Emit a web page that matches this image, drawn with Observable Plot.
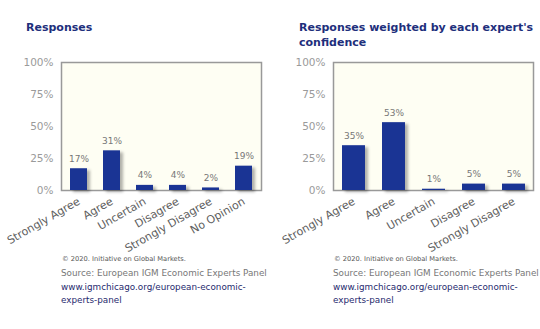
<!DOCTYPE html>
<html>
<head>
<meta charset="utf-8">
<script src="https://cdn.jsdelivr.net/npm/d3@7"></script>
<script src="https://cdn.jsdelivr.net/npm/@observablehq/plot@0.6"></script>
<style>
  html, body { margin: 0; padding: 0; background: #fff; }
  body { width: 540px; height: 329px; position: relative; overflow: hidden; font-family: "DejaVu Sans", Verdana, sans-serif; }
  .title { position: absolute; font-weight: bold; font-size: 11px; color: #1e2f7c; line-height: 15px; }
  .chart { position: absolute; top: 50px; }
  .copy { position: absolute; font-size: 6.7px; color: #555; }
  .src { position: absolute; font-size: 8.8px; color: #777; line-height: 13.5px; }
  .src a { color: #1f2a6e; text-decoration: none; }
  .chart g[aria-label="bar"] { filter: drop-shadow(3px 2px 1.5px rgba(0,0,0,0.3)); }
  .chart g[aria-label="frame"] { filter: drop-shadow(2px 2px 1px rgba(0,0,0,0.2)); }
</style>
</head>
<body>
<div class="title" style="left:26px; top:20px;">Responses</div>
<div class="title" style="left:299px; top:20px;">Responses weighted by each expert's<br>confidence</div>
<div id="left" class="chart" style="left:0px;"></div>
<div id="right" class="chart" style="left:270px;"></div>
<div class="copy" style="left:62px; top:255px;">© 2020. Initiative on Global Markets.</div>
<div class="src" style="left:61px; top:267px;">Source: European IGM Economic Experts Panel<br><a>www.igmchicago.org/european-economic-<br>experts-panel</a></div>
<div class="copy" style="left:334px; top:255px;">© 2020. Initiative on Global Markets.</div>
<div class="src" style="left:333px; top:267px;">Source: European IGM Economic Experts Panel<br><a>www.igmchicago.org/european-economic-<br>experts-panel</a></div>
<script>
const categoriesLeft = ["Strongly Agree", "Agree", "Uncertain", "Disagree", "Strongly Disagree", "No Opinion"];
const valuesLeft = [17, 31, 4, 4, 2, 19];
const categoriesRight = ["Strongly Agree", "Agree", "Uncertain", "Disagree", "Strongly Disagree"];
const valuesRight = [35, 53, 1, 5, 5];
const yTicks = [0, 25, 50, 75, 100];

function drawChart(el, cats, vals, mLeft, mRight, padInner) {
  const data = cats.map((c, i) => ({cat: c, v: vals[i]}));
  const chart = Plot.plot({
    width: 270,
    height: 200,
    marginTop: 12,
    marginBottom: 60,
    marginLeft: mLeft,
    marginRight: mRight,
    style: {fontFamily: "'DejaVu Sans', Verdana, sans-serif", background: "transparent", overflow: "visible"},
    x: {domain: cats, paddingInner: padInner, paddingOuter: padInner / 2},
    y: {domain: [0, 100]},
    marks: [
      Plot.frame({fill: "#fefef3", stroke: "#999", strokeWidth: 1.5}),
      Plot.axisY({ticks: yTicks, tickSize: 0, tickPadding: 8, tickFormat: d => d + "%", fill: "#9a9a9a", fontSize: 10.5, label: null}),
      Plot.axisX({tickSize: 0, tickPadding: 10, tickRotate: -30, fill: "#606060", fontSize: 11, label: null}),
      Plot.barY(data, {x: "cat", y: "v", fill: "#1a3494"}),
      Plot.text(data, {x: "cat", y: "v", text: d => d.v + "%", dy: -10, fill: "#777", fontSize: 9})
    ]
  });
  document.getElementById(el).appendChild(chart);
}
drawChart("left", categoriesLeft, valuesLeft, 61, 9, 0.49);
drawChart("right", categoriesRight, valuesRight, 63, 7, 0.425);
</script>
</body>
</html>
